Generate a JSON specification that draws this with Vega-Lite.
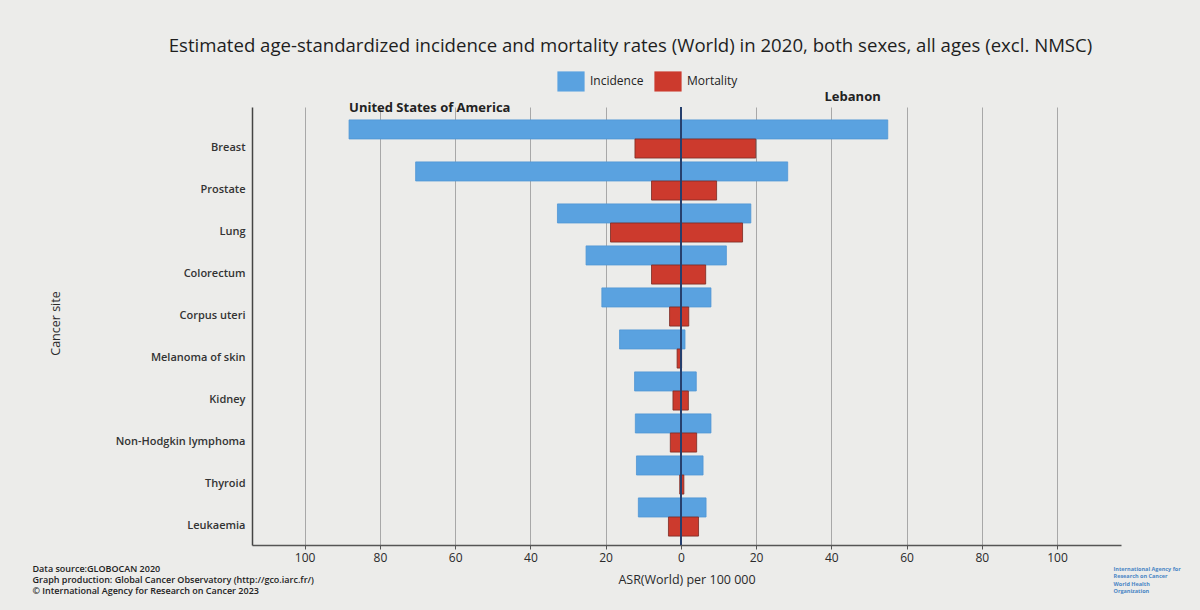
{
  "$schema": "https://vega.github.io/schema/vega-lite/v6.json",
  "width": 869,
  "height": 438,
  "autosize": {"type": "none"},
  "padding": {"left": 252, "top": 107, "right": 79, "bottom": 65},
  "background": "#ececea",
  "config": {
    "view": {"stroke": null},
    "font": "Open Sans"
  },
  "title": {
    "text": "Estimated age-standardized incidence and mortality rates (World) in 2020, both sexes, all ages (excl. NMSC)",
    "frame": "group",
    "anchor": "middle",
    "dx": -56,
    "offset": 11,
    "font": "Open Sans",
    "fontSize": 18.6,
    "fontWeight": "normal",
    "color": "#1e1e1e"
  },
  "data": {
    "values": [
      {"cancer": "Breast", "country": "United States of America", "measure": "Incidence", "asr": -88.2},
      {"cancer": "Breast", "country": "United States of America", "measure": "Mortality", "asr": -12.2},
      {"cancer": "Breast", "country": "Lebanon", "measure": "Incidence", "asr": 55.0},
      {"cancer": "Breast", "country": "Lebanon", "measure": "Mortality", "asr": 19.9},
      {"cancer": "Prostate", "country": "United States of America", "measure": "Incidence", "asr": -70.5},
      {"cancer": "Prostate", "country": "United States of America", "measure": "Mortality", "asr": -7.8},
      {"cancer": "Prostate", "country": "Lebanon", "measure": "Incidence", "asr": 28.4},
      {"cancer": "Prostate", "country": "Lebanon", "measure": "Mortality", "asr": 9.5},
      {"cancer": "Lung", "country": "United States of America", "measure": "Incidence", "asr": -32.8},
      {"cancer": "Lung", "country": "United States of America", "measure": "Mortality", "asr": -18.7},
      {"cancer": "Lung", "country": "Lebanon", "measure": "Incidence", "asr": 18.6},
      {"cancer": "Lung", "country": "Lebanon", "measure": "Mortality", "asr": 16.4},
      {"cancer": "Colorectum", "country": "United States of America", "measure": "Incidence", "asr": -25.2},
      {"cancer": "Colorectum", "country": "United States of America", "measure": "Mortality", "asr": -7.8},
      {"cancer": "Colorectum", "country": "Lebanon", "measure": "Incidence", "asr": 12.1},
      {"cancer": "Colorectum", "country": "Lebanon", "measure": "Mortality", "asr": 6.6},
      {"cancer": "Corpus uteri", "country": "United States of America", "measure": "Incidence", "asr": -21.0},
      {"cancer": "Corpus uteri", "country": "United States of America", "measure": "Mortality", "asr": -3.0},
      {"cancer": "Corpus uteri", "country": "Lebanon", "measure": "Incidence", "asr": 8.0},
      {"cancer": "Corpus uteri", "country": "Lebanon", "measure": "Mortality", "asr": 2.1},
      {"cancer": "Melanoma of skin", "country": "United States of America", "measure": "Incidence", "asr": -16.3},
      {"cancer": "Melanoma of skin", "country": "United States of America", "measure": "Mortality", "asr": -1.0},
      {"cancer": "Melanoma of skin", "country": "Lebanon", "measure": "Incidence", "asr": 1.1},
      {"cancer": "Melanoma of skin", "country": "Lebanon", "measure": "Mortality", "asr": 0.2},
      {"cancer": "Kidney", "country": "United States of America", "measure": "Incidence", "asr": -12.3},
      {"cancer": "Kidney", "country": "United States of America", "measure": "Mortality", "asr": -2.1},
      {"cancer": "Kidney", "country": "Lebanon", "measure": "Incidence", "asr": 4.1},
      {"cancer": "Kidney", "country": "Lebanon", "measure": "Mortality", "asr": 2.0},
      {"cancer": "Non-Hodgkin lymphoma", "country": "United States of America", "measure": "Incidence", "asr": -12.1},
      {"cancer": "Non-Hodgkin lymphoma", "country": "United States of America", "measure": "Mortality", "asr": -2.8},
      {"cancer": "Non-Hodgkin lymphoma", "country": "Lebanon", "measure": "Incidence", "asr": 8.0},
      {"cancer": "Non-Hodgkin lymphoma", "country": "Lebanon", "measure": "Mortality", "asr": 4.2},
      {"cancer": "Thyroid", "country": "United States of America", "measure": "Incidence", "asr": -11.8},
      {"cancer": "Thyroid", "country": "United States of America", "measure": "Mortality", "asr": -0.3},
      {"cancer": "Thyroid", "country": "Lebanon", "measure": "Incidence", "asr": 5.9},
      {"cancer": "Thyroid", "country": "Lebanon", "measure": "Mortality", "asr": 0.8},
      {"cancer": "Leukaemia", "country": "United States of America", "measure": "Incidence", "asr": -11.3},
      {"cancer": "Leukaemia", "country": "United States of America", "measure": "Mortality", "asr": -3.3},
      {"cancer": "Leukaemia", "country": "Lebanon", "measure": "Incidence", "asr": 6.7},
      {"cancer": "Leukaemia", "country": "Lebanon", "measure": "Mortality", "asr": 4.7}
    ]
  },
  "resolve": {"axis": {"x": "independent", "y": "independent"}},
  "layer": [
    {
      "mark": {"type": "bar", "strokeWidth": 0.8},
      "encoding": {
        "x": {
          "field": "asr",
          "type": "quantitative",
          "stack": null,
          "scale": {"domain": [-114, 117], "nice": false, "zero": false},
          "axis": {
            "orient": "bottom",
            "values": [-100, -80, -60, -40, -20, 0, 20, 40, 60, 80, 100],
            "labelExpr": "abs(datum.value)",
            "grid": true,
            "gridColor": "#a8a8a8",
            "gridWidth": 1,
            "domainColor": "#555555",
            "domainWidth": 1.5,
            "ticks": true,
            "tickSize": 4,
            "tickColor": "#555555",
            "labelFont": "Open Sans",
            "labelFontSize": 12,
            "labelColor": "#2a2a2a",
            "labelPadding": 3,
            "title": "ASR(World) per 100 000",
            "titleFont": "Open Sans",
            "titleFontSize": 12.5,
            "titleFontWeight": "normal",
            "titleColor": "#2a2a2a",
            "titlePadding": 10
          }
        },
        "y": {
          "field": "cancer",
          "type": "nominal",
          "sort": null,
          "scale": {"paddingInner": 0, "paddingOuter": 0.214, "align": 0.61},
          "axis": {
            "orient": "left",
            "ticks": false,
            "grid": false,
            "domainColor": "#444444",
            "domainWidth": 1.5,
            "labelFont": "Open Sans",
            "labelFontSize": 11,
            "labelFontWeight": 600,
            "labelColor": "#333333",
            "labelPadding": 7,
            "labelOffset": 9,
            "title": "Cancer site",
            "titleFont": "Open Sans",
            "titleFontSize": 12.5,
            "titleFontWeight": "normal",
            "titleColor": "#2a2a2a",
            "titleX": -190,
            "titleY": 216
          }
        },
        "yOffset": {
          "field": "measure",
          "type": "nominal",
          "scale": {"domain": ["Incidence", "Mortality"], "paddingInner": 0, "paddingOuter": 0.1}
        },
        "color": {
          "field": "measure",
          "type": "nominal",
          "scale": {"domain": ["Incidence", "Mortality"], "range": ["#5aa2e0", "#cc3a2d"]},
          "legend": {
            "orient": "none",
            "legendX": 305,
            "legendY": -40,
            "direction": "horizontal",
            "title": null,
            "symbolType": "M-1,-0.74H1V0.74H-1Z",
            "symbolSize": 740,
            "symbolStrokeWidth": 0,
            "symbolOpacity": 1,
            "labelFont": "Open Sans",
            "labelFontSize": 12,
            "labelColor": "#222222",
            "labelOffset": 5,
            "columnPadding": 10
          }
        },
        "stroke": {
          "condition": {"test": "datum.measure === 'Mortality'", "value": "#7a2a22"},
          "value": "#4f95d4"
        }
      }
    },
    {
      "transform": [{"filter": "datum.measure === 'Incidence' && datum.cancer === 'Breast' && datum.country === 'United States of America'"}],
      "mark": {"type": "text", "align": "left", "baseline": "middle", "dy": -31, "font": "Open Sans", "fontSize": 13, "fontWeight": "bold", "color": "#222222"},
      "encoding": {
        "x": {
          "field": "asr",
          "type": "quantitative",
          "axis": {
            "orient": "bottom",
            "labels": false,
            "ticks": false,
            "domain": false,
            "grid": false,
            "title": ["Data source:GLOBOCAN 2020", "Graph production: Global Cancer Observatory (http://gco.iarc.fr/)", "© International Agency for Research on Cancer 2023"],
            "titleX": -220,
            "titleY": 19,
            "titleAlign": "left",
            "titleBaseline": "top",
            "titleFont": "Open Sans",
            "titleFontSize": 9,
            "titleFontWeight": 600,
            "titleColor": "#222222",
            "titleLineHeight": 11
          }
        },
        "y": {
          "field": "cancer",
          "type": "nominal",
          "sort": null,
          "axis": {
            "orient": "right",
            "labels": false,
            "ticks": false,
            "domain": false,
            "grid": false,
            "title": ["International Agency for", "Research on Cancer", "World Health", "Organization"],
            "titleAngle": 0,
            "titleX": -8,
            "titleY": 459,
            "titleAlign": "left",
            "titleBaseline": "top",
            "titleFont": "Open Sans",
            "titleFontSize": 5.5,
            "titleFontWeight": "bold",
            "titleColor": "#4a86c5",
            "titleLineHeight": 7.5
          }
        },
        "text": {"field": "country"}
      }
    },
    {
      "transform": [{"filter": "datum.measure === 'Incidence' && datum.cancer === 'Breast' && datum.country === 'Lebanon'"}],
      "mark": {"type": "text", "align": "right", "baseline": "middle", "dy": -42, "dx": -7, "font": "Open Sans", "fontSize": 13, "fontWeight": "bold", "color": "#222222"},
      "encoding": {
        "x": {"field": "asr", "type": "quantitative", "axis": null},
        "y": {"field": "cancer", "type": "nominal", "sort": null, "axis": null},
        "text": {"field": "country"}
      }
    },
    {
      "mark": {"type": "rule", "color": "#26406e", "strokeWidth": 1.5},
      "encoding": {
        "x": {"datum": 0, "type": "quantitative", "axis": null}
      }
    }
  ]
}
